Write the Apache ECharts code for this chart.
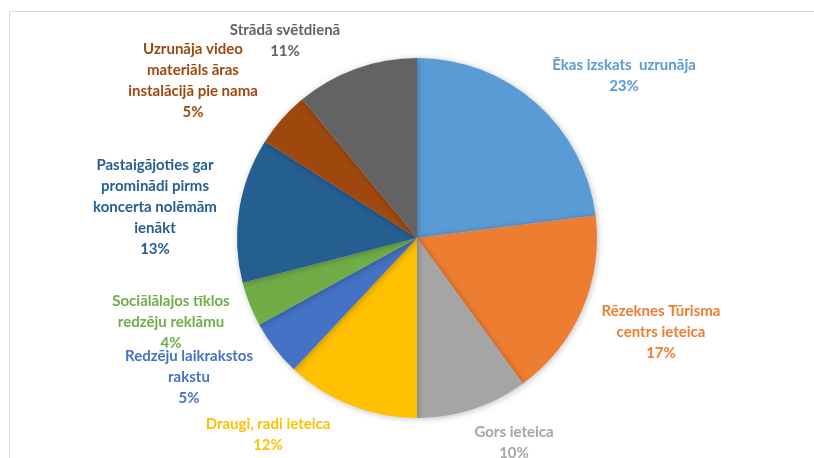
<!DOCTYPE html>
<html>
<head>
<meta charset="utf-8">
<script src="https://cdn.jsdelivr.net/npm/echarts@6/dist/echarts.min.js"></script>
<style>
  html, body { margin: 0; padding: 0; background: #fff; }
  #chart { width: 814px; height: 458px; }
</style>
</head>
<body>
<div id="chart"></div>
<script>
'use strict';
// Kā uzzinājāt par koncertu — sector shares, clockwise from 12 o'clock

const names = [
  'Ēkas izskats  uzrunāja',
  'Rēzeknes Tūrisma\ncentrs ieteica',
  'Gors ieteica',
  'Draugi, radi ieteica',
  'Redzēju laikrakstos\nrakstu',
  'Sociālālajos tīklos\nredzēju reklāmu',
  'Pastaigājoties gar\nprominādi pirms\nkoncerta nolēmām\nienākt',
  'Uzrunāja video\nmateriāls āras\ninstalācijā pie nama',
  'Strādā svētdienā'
];
const shares = [23, 17, 10, 12, 5, 4, 13, 5, 11];
const colors = ['#5B9BD5', '#ED7D31', '#A5A5A5', '#FFC000', '#4472C4', '#70AD47', '#255E91', '#9E480E', '#636363'];

// label block centres (Excel placed these by hand)
const labelPos = [
  [624, 76], [661, 332], [514, 443], [268, 435], [189, 377],
  [171, 322], [155, 207], [193, 81], [285, 41]
];

const FONT = "Lato, 'Open Sans', sans-serif";

const chart = echarts.init(document.getElementById('chart'), null, { renderer: 'canvas' });
chart.setOption({
  animation: false,
  graphic: [{
    type: 'rect', silent: true, z: -1,
    shape: { x: 9.5, y: 11.5, width: 900, height: 600 },
    style: { fill: '#fff', stroke: '#D9D9D9', lineWidth: 1 }
  }],
  series: [{
    type: 'pie',
    center: [417, 238],
    radius: [0, 180],
    startAngle: 90,
    clockwise: true,
    data: names.map((n, i) => ({ name: n, value: shares[i], itemStyle: { color: colors[i] } })),
    itemStyle: { shadowBlur: 6, shadowColor: 'rgba(0,0,0,0.25)', shadowOffsetX: 1, shadowOffsetY: 1 },
    label: {
      show: true,
      position: 'outside',
      formatter: p => p.name + '\n' + p.value + '%',
      color: 'inherit',
      fontFamily: FONT,
      fontWeight: 'bold',
      fontSize: 15,
      lineHeight: 21,
      align: 'center'
    },
    labelLine: { show: false },
    labelLayout: p => ({
      x: labelPos[p.dataIndex][0],
      y: labelPos[p.dataIndex][1],
      align: 'center',
      verticalAlign: 'middle'
    }),
    emphasis: { disabled: true }
  }]
});
</script>
</body>
</html>
